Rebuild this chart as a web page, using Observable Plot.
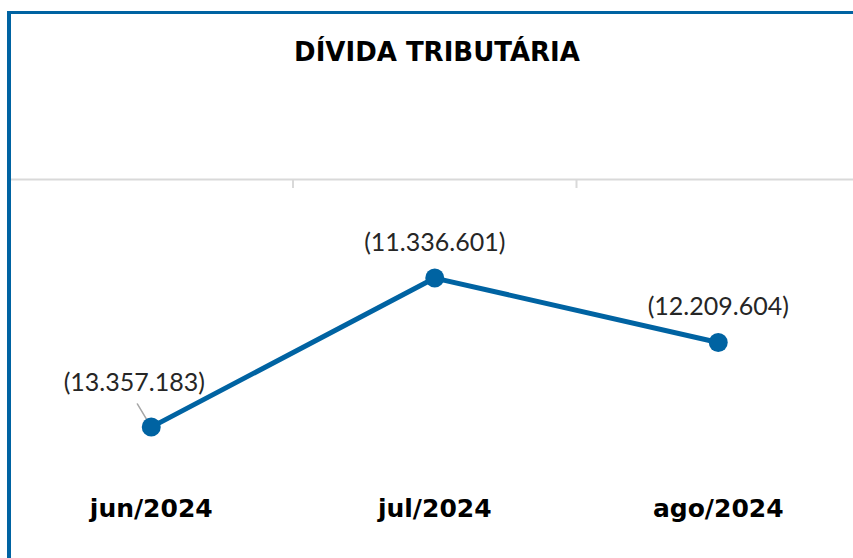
<!DOCTYPE html>
<html>
<head>
<meta charset="utf-8">
<script src="https://cdn.jsdelivr.net/npm/d3@7"></script>
<script src="https://cdn.jsdelivr.net/npm/@observablehq/plot@0.6"></script>
<style>
  html, body { margin: 0; padding: 0; background: #fff; }
  #wrap { position: relative; width: 853px; height: 558px; overflow: hidden; background: #fff; }
  #chart { position: absolute; left: 0; top: 0; }
  #title { position: absolute; left: 21px; width: 832px; top: 39px; text-align: center;
    font-family: "DejaVu Sans", sans-serif; font-weight: bold; font-size: 26px; line-height: 26px; color: #000; }
  #border { position: absolute; left: 7px; top: 11px; width: 900px; height: 600px;
    border-left: 4px solid #0063a2; border-top: 3px solid #0063a2; pointer-events: none; }
</style>
</head>
<body>
<div id="wrap">
  <div id="chart"></div>
  <div id="title">DÍVIDA TRIBUTÁRIA</div>
  <div id="border"></div>
</div>
<script>
const months = ["jun/2024", "jul/2024", "ago/2024"];
const values = [-13357183, -11336601, -12209604];

const ptBR = d3.formatLocale({decimal: ",", thousands: ".", grouping: [3], currency: ["R$", ""]});
const fmt = ptBR.format(",");
const data = months.map((m, i) => ({i, month: m, value: values[i], label: "(" + fmt(Math.abs(values[i])) + ")"}));

const blue = "#0063a2";
const labelFont = "Lato, 'Open Sans', sans-serif";

const plot = Plot.plot({
  width: 853,
  height: 558,
  marginTop: 179,
  marginBottom: 84,
  marginLeft: 9,
  marginRight: 0,
  x: {type: "linear", domain: [-0.5, 2.5], range: [9, 859.5], label: null},
  y: {domain: [-14000000, -10000000], axis: null, label: null},
  style: {background: "transparent", overflow: "visible"},
  marks: [
    Plot.ruleY([-10000000], {stroke: "#d9d9d9", strokeWidth: 2}),
    Plot.axisX([0.5, 1.5], {anchor: "top", tickSize: -8, tickFormat: () => "", label: null,
      stroke: "#d9d9d9", strokeWidth: 2}),
    Plot.axisX([0, 1, 2], {anchor: "bottom", tickSize: 0, tickPadding: 25, label: null,
      tickFormat: i => months[i], fontSize: 25, fontWeight: "bold",
      fontFamily: "'DejaVu Sans', sans-serif", fill: "#000"}),
    Plot.vector([data[0]], {x: "i", y: "value", length: 27, rotate: -31, anchor: "start",
      shape: {draw(ctx, l) { ctx.moveTo(0, 0); ctx.lineTo(0, -l); }},
      stroke: "#a6a6a6", strokeWidth: 1.5}),
    Plot.line(data, {x: "i", y: "value", stroke: blue, strokeWidth: 5}),
    Plot.dot(data, {x: "i", y: "value", r: 9.5, fill: blue, stroke: null}),
    Plot.text(data.filter(d => d.i > 0), {x: "i", y: "value", text: "label", dy: -35,
      fontSize: 25, fontWeight: "normal", fontFamily: labelFont, fill: "#262626"}),
    Plot.text(data.filter(d => d.i === 0), {x: "i", y: "value", text: "label", dy: -44, dx: -17,
      fontSize: 25, fontWeight: "normal", fontFamily: labelFont, fill: "#262626"})
  ]
});
document.getElementById("chart").appendChild(plot);
</script>
</body>
</html>
